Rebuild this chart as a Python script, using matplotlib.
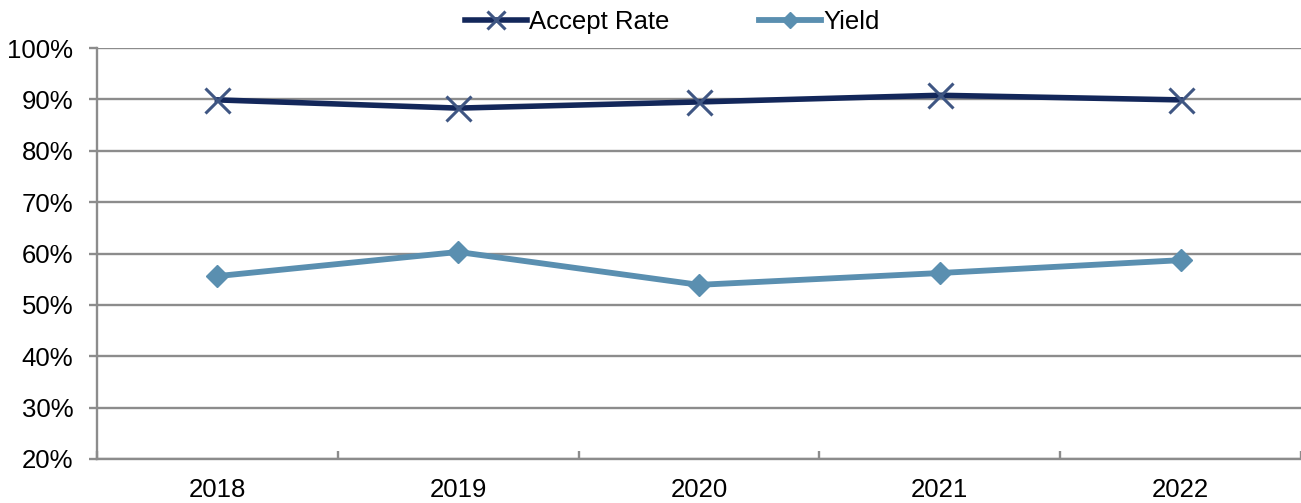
import numpy as np
import matplotlib.pyplot as plt
from matplotlib.ticker import FuncFormatter

years = ["2018", "2019", "2020", "2021", "2022"]
accept_rate = [89.9, 88.3, 89.5, 90.8, 89.9]
yield_rate = [55.6, 60.3, 53.9, 56.2, 58.7]

plt.rcParams['font.family'] = ['Liberation Sans', 'DejaVu Sans']

fig = plt.figure(figsize=(13.01, 5.03), dpi=100)
ax = fig.add_axes([97 / 1301, 1 - 459 / 503, 1 - 97 / 1301, (459 - 48) / 503])

x = np.arange(len(years))
grid_col = '#8c8c8c'

ax.plot(x, accept_rate, color='#13275a', lw=4.0, marker='x', ms=18,
        mec='#3f5683', mew=2.2, label='Accept Rate', zorder=3)
ax.plot(x, yield_rate, color='#5a8fb0', lw=4.2, marker='D', ms=11,
        mfc='#5a8fb0', mec='#5a8fb0', label='Yield', zorder=3)

ax.set_ylim(20, 100)
ax.set_xlim(-0.5, len(years) - 0.5)
ax.set_yticks(np.arange(20, 101, 10))
ax.yaxis.set_major_formatter(FuncFormatter(lambda v, p: f"{v:.0f}%"))
ax.set_xticks(x)
ax.set_xticklabels(years)
ax.set_xticks(np.arange(-0.5, len(years), 1), minor=True)

ax.grid(axis='y', color=grid_col, lw=1.7)
ax.set_axisbelow(True)
for s in ['top', 'right']:
    ax.spines[s].set_visible(False)
for s in ['left', 'bottom']:
    ax.spines[s].set_color(grid_col)
    ax.spines[s].set_linewidth(1.7)

ax.tick_params(axis='y', length=6, width=1.7, color=grid_col, labelsize=18.5, pad=11)
ax.tick_params(axis='x', which='major', length=0, labelsize=18.5, pad=14)
ax.tick_params(axis='x', which='minor', direction='in', length=6, width=1.7, color=grid_col)

ax.legend(loc='upper center', bbox_to_anchor=(0.478, 1.118), ncol=2, frameon=False,
          fontsize=18.5, handlelength=2.4, handletextpad=0.1, columnspacing=3.5,
          borderaxespad=0, markerscale=0.75)

fig.savefig("out.png", dpi=100)
